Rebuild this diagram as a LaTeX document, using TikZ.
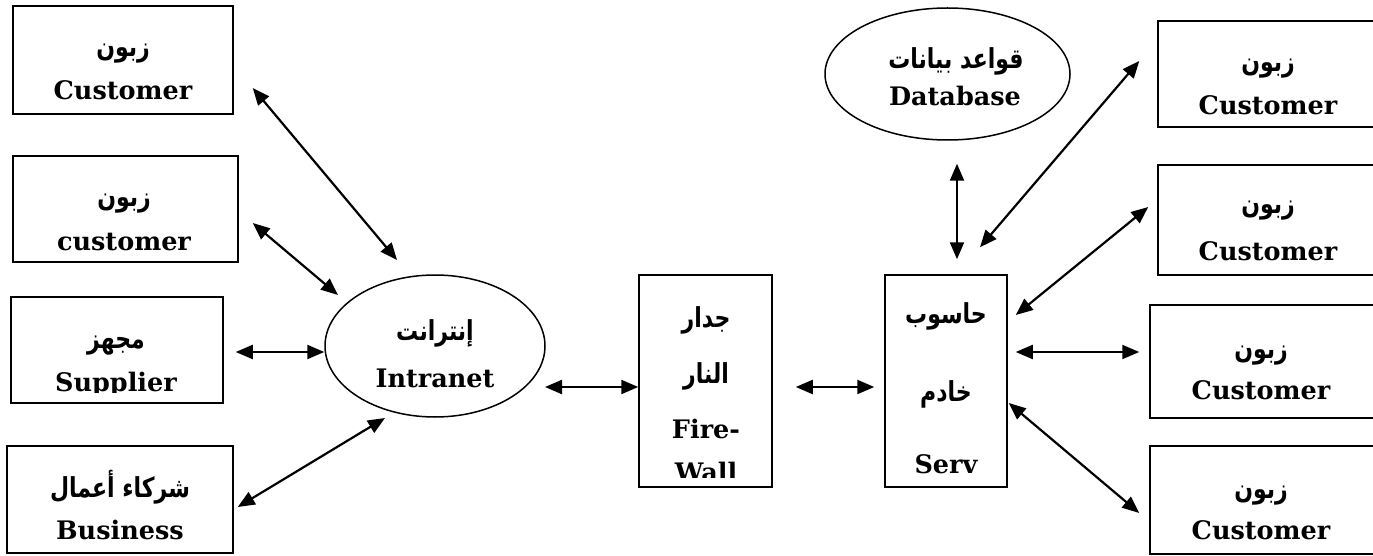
\documentclass[tikz,border=0pt]{standalone}
\usepackage{fontspec}
\setmainfont{DejaVu Serif}
\newfontfamily\arfont[Script=Arabic]{DejaVu Sans}
\TeXXeTstate=1
\usetikzlibrary{arrows.meta,shapes.geometric,calc}

% right-to-left Arabic label, set a little taller than the font's own shape
\newcommand\artxt[1]{\scalebox{1}[1.25]{\beginR #1\endR}}

\tikzset{
  box/.style 2 args={draw, line width=1.5pt, inner sep=0pt,
    minimum width=#1, minimum height=#2},
  oval/.style 2 args={draw, ellipse, line width=1.5pt, inner sep=0pt,
    minimum width=#1, minimum height=#2},
  en/.style={anchor=base, inner sep=0pt,
    font=\bfseries\fontsize{25.5}{25.5}\selectfont},
  ar/.style={anchor=base, inner sep=0pt,
    font=\arfont\bfseries\fontsize{22}{22}\selectfont},
  dbl/.style={{Triangle[length=17pt,width=14pt]}-{Triangle[length=17pt,width=14pt]},
    line width=2.2pt},
}

\begin{document}
\begin{tikzpicture}[x=1pt, y=-1pt]
\useasboundingbox (0,0) rectangle (1373,556);

% ---- left column ----
\node[box={220pt}{108pt}] (lc1) at (123,60) {};
\node[ar] (lc1a) at (123,57) {\artxt{زبون}};
\node[en] (lc1e) at (123,100) {Customer};

\node[box={225pt}{106pt}] (lc2) at (125.5,209) {};
\node[ar] (lc2a) at (124,207) {\artxt{زبون}};
\node[en] (lc2e) at (124,250) {customer};

\node[box={212pt}{106pt}] (lc3) at (117,350) {};
\node[ar] (lc3a) at (116,348) {\artxt{مجهز}};
\begin{scope}
  \clip (0,300) rectangle (230,392);
  \node[en] (lc3e) at (116,391) {Supplier};
\end{scope}

\node[box={226pt}{107pt}] (lc4) at (120,499.5) {};
\node[ar] (lc4a) at (120,497) {\artxt{شركاء أعمال}};
\node[en] (lc4e) at (120,539) {Business};

% ---- intranet ----
\node[oval={220pt}{142pt}] (intr) at (435,346) {};
\node[ar] (intra) at (435,340) {\artxt{إنترانت}};
\node[en] (intre) at (435,387) {Intranet};

% ---- firewall ----
\node[box={133pt}{212pt}] (fw) at (705.5,381) {};
\node[ar] (fwa1) at (706,327) {\artxt{جدار}};
\node[ar] (fwa2) at (706,383) {\artxt{النار}};
\node[en] (fwe1) at (706,438) {Fire-};
\begin{scope}
  \clip (645,440) rectangle (765,477);
  \node[en] (fwe2) at (706,481) {Wall};
\end{scope}

% ---- server ----
\node[box={122pt}{212pt}] (sv) at (946,381) {};
\node[ar] (sva1) at (946,323) {\artxt{حاسوب}};
\node[ar] (sva2) at (946,401) {\artxt{خادم}};
\node[en] (sve) at (946,473) {Serv};

% ---- database ----
\node[oval={245pt}{132pt}] (db) at (947.5,74) {};
\node[ar] (dba) at (956,69) {\artxt{قواعد بيانات}};
\node[en] (dbe) at (955,106) {Database};

% ---- right column (runs off the right edge) ----
\node[box={226pt}{106pt}] (rc1) at (1271,74) {};
\node[ar] (rc1a) at (1268,72) {\artxt{زبون}};
\node[en] (rc1e) at (1268,115) {Customer};

\node[box={226pt}{110pt}] (rc2) at (1271,220) {};
\node[ar] (rc2a) at (1268,214) {\artxt{زبون}};
\node[en] (rc2e) at (1268,260) {Customer};

\node[box={234pt}{113pt}] (rc3) at (1267,361.5) {};
\node[ar] (rc3a) at (1261,358) {\artxt{زبون}};
\node[en] (rc3e) at (1261,399) {Customer};

\node[box={234pt}{108pt}] (rc4) at (1267,500) {};
\node[ar] (rc4a) at (1261,498) {\artxt{زبون}};
\node[en] (rc4e) at (1261,539) {Customer};

% ---- connectors ----
\draw[dbl] ($(lc1.east)+(19,28)$) -- ($(intr.center)+(-38,-86)$);
\draw[dbl] ($(lc2.east)+(14,14)$) -- ($(intr.center)+(-97,-51)$);
\draw[dbl] ($(lc3.east)+(12,2)$) -- ($(intr.west)+(0,6)$);
\draw[dbl] ($(lc4.east)+(4,7.5)$) -- ($(intr.center)+(-50,72)$);
\draw[dbl] ($(intr.center)+(110,41)$) -- ($(fw.west)+(0,6)$);
\draw[dbl] ($(fw.east)+(23,6)$) -- ($(sv.west)+(-10,6)$);
\draw[dbl] ($(db.south)+(9.5,23)$) -- ($(sv.north)+(11,-15)$);
\draw[dbl] ($(sv.north)+(34,-27)$) -- ($(rc1.west)+(-18,-13)$);
\draw[dbl] ($(sv.east)+(8,-66)$) -- ($(rc2.west)+(-9,-13)$);
\draw[dbl] ($(sv.east)+(8,-29)$) -- ($(rc3.west)+(-10,-9.5)$);
\draw[dbl] ($(sv.east)+(1,22)$) -- ($(rc4.west)+(-10,13)$);
\end{tikzpicture}
\end{document}
